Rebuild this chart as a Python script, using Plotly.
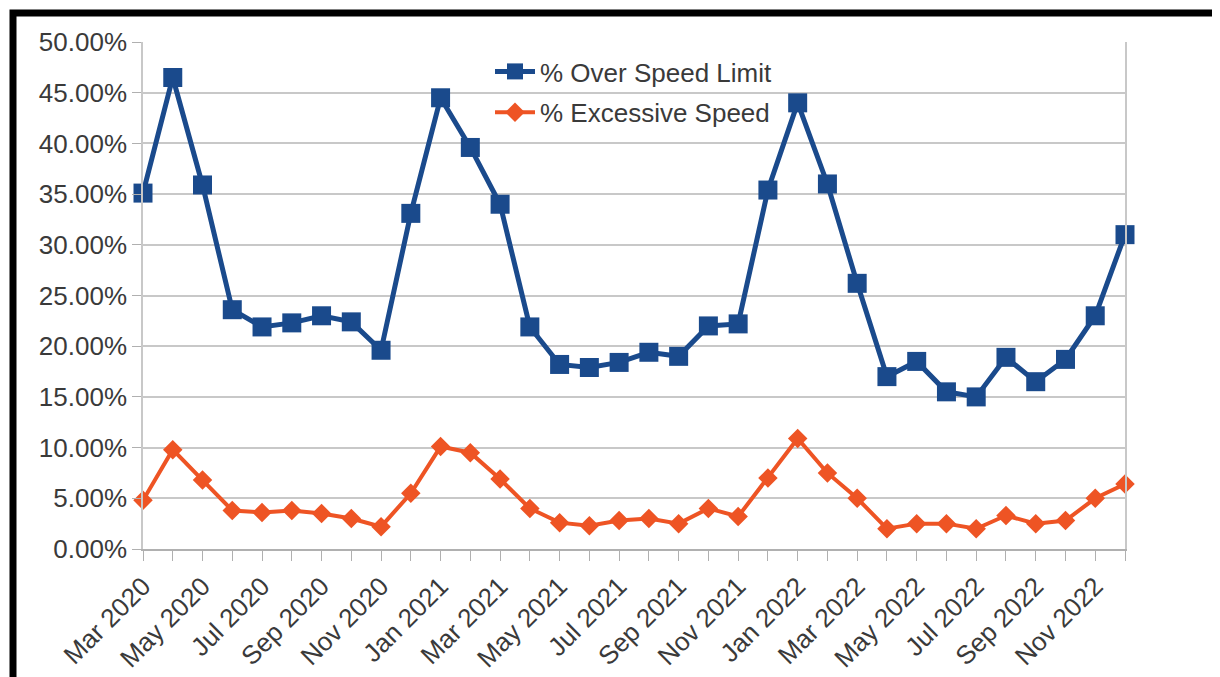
import plotly.graph_objects as go

months = ["Mar 2020", "Apr 2020", "May 2020", "Jun 2020", "Jul 2020", "Aug 2020", "Sep 2020", "Oct 2020",
          "Nov 2020", "Dec 2020", "Jan 2021", "Feb 2021", "Mar 2021", "Apr 2021", "May 2021", "Jun 2021",
          "Jul 2021", "Aug 2021", "Sep 2021", "Oct 2021", "Nov 2021", "Dec 2021", "Jan 2022", "Feb 2022",
          "Mar 2022", "Apr 2022", "May 2022", "Jun 2022", "Jul 2022", "Aug 2022", "Sep 2022", "Oct 2022",
          "Nov 2022", "Dec 2022"]

over_speed = [0.351, 0.465, 0.359, 0.236, 0.219, 0.223, 0.230, 0.224, 0.196, 0.331, 0.445, 0.396,
              0.340, 0.219, 0.182, 0.179, 0.184, 0.194, 0.190, 0.220, 0.222, 0.354, 0.440, 0.360,
              0.262, 0.170, 0.185, 0.155, 0.150, 0.189, 0.165, 0.187, 0.230, 0.310]

excessive = [0.048, 0.098, 0.068, 0.038, 0.036, 0.038, 0.035, 0.030, 0.022, 0.055, 0.101, 0.095,
             0.069, 0.040, 0.026, 0.023, 0.028, 0.030, 0.025, 0.040, 0.032, 0.070, 0.109, 0.075,
             0.050, 0.020, 0.025, 0.025, 0.020, 0.033, 0.025, 0.028, 0.050, 0.064]

tick_labels = [m if i % 2 == 0 else "" for i, m in enumerate(months)]

BLUE = "#1a4a8c"
ORANGE = "#ee5424"
TXT = "#3a3a3a"
GRID = "#c8c8c8"
FONT = "Liberation Sans, Arial, sans-serif"

# page has an 8px body margin; work in page pixels and convert
OFF = 8
W, H = 1220 - OFF, 677 - OFF
PL, PR, PT, PB = 143, 1125, 42, 549          # plot area in page pixels
L, T = PL - OFF, PT - OFF
R = W - (PR - OFF)
B = H - (PB - OFF)
pw, ph = PR - PL, PB - PT

def px_x(x):
    return (x - PL) / pw

def px_y(y):
    return (PB - y) / ph

fig = go.Figure()
fig.add_trace(go.Scatter(x=months, y=over_speed, name="% Over Speed Limit", mode="lines+markers",
                         line=dict(color=BLUE, width=5),
                         marker=dict(symbol="square", size=19, color=BLUE),
                         cliponaxis=False, legendgroup="a"))
fig.add_trace(go.Scatter(x=months, y=excessive, name="% Excessive Speed", mode="lines+markers",
                         line=dict(color=ORANGE, width=4),
                         marker=dict(symbol="diamond", size=15, color=ORANGE),
                         cliponaxis=False, legendgroup="b"))

fig.add_shape(type="rect", xref="paper", yref="paper",
              x0=px_x(13), x1=px_x(1216), y0=px_y(720), y1=px_y(13),
              line=dict(color="black", width=7), fillcolor="rgba(0,0,0,0)", layer="above")

fig.update_layout(
    width=W, height=H,
    margin=dict(l=L, r=R, t=T, b=B, autoexpand=False),
    paper_bgcolor="white", plot_bgcolor="white",
    font=dict(family=FONT, size=26, color=TXT),
    showlegend=True,
    legend=dict(x=px_x(490), y=px_y(48), xanchor="left", yanchor="top",
                bgcolor="rgba(0,0,0,0)", font=dict(size=26, color=TXT),
                tracegroupgap=4, traceorder="grouped", itemwidth=40),
    xaxis=dict(type="category", range=[0, len(months) - 1],
               tickvals=months, ticktext=tick_labels, tickangle=-45,
               ticks="outside", ticklen=10, tickcolor="#b0b0b0",
               showline=True, linecolor="#b0b0b0", linewidth=1.5,
               showgrid=False, tickfont=dict(size=26, color=TXT)),
    yaxis=dict(range=[0, 0.5], dtick=0.05, tickformat=".2%",
               ticks="outside", ticklen=9, tickcolor="#b0b0b0",
               showline=True, linecolor="#c8c8c8", linewidth=1.5, mirror=True,
               showgrid=True, gridcolor=GRID, gridwidth=1.5,
               zeroline=False, tickfont=dict(size=26, color=TXT)),
)

fig.write_html("out.html")
